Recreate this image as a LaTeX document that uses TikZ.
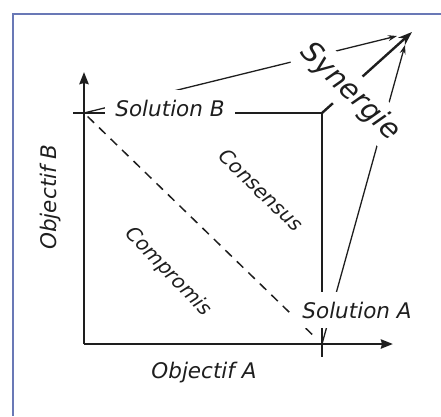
\documentclass[tikz,border=0pt]{standalone}
\usepackage{fontspec}
\setmainfont{DejaVu Sans}
\usepackage{tikz}
\usetikzlibrary{arrows.meta,calc}
\definecolor{framecol}{RGB}{105,120,182}
\definecolor{ink}{RGB}{30,30,30}

\begin{document}
\begin{tikzpicture}[x=1pt, y=-1pt, font=\itshape\fontsize{21.5}{25}\selectfont,
		axis/.style={line width=2.9pt, draw=ink, -{Stealth[length=12pt, width=9pt, inset=1pt]}},
		thinline/.style={line width=1.3pt, draw=ink},
		thinarrow/.style={thinline, -{Stealth[length=9pt, width=6pt]}},
		gaplabel/.style={fill=white, inner sep=10pt, text=ink},
		arealabel/.style={text=ink, font=\itshape\fontsize{20}{24}\selectfont}]
		\useasboundingbox (0,0) rectangle (441,416);
		% frame (only left and top edges are in view)
		\draw[framecol, line width=2pt] (13,416) -- (13,14) -- (441,14);
		% key points
		\coordinate (O) at (84,344);
		\coordinate (B) at (84,113);
		\coordinate (A) at (322,344);
		\coordinate (C) at (322,113);
		\coordinate (P) at (412,32);
		\coordinate (tipB) at (397,36);
		\coordinate (tipA) at (405,45);
		% axes
		\draw[axis] (O) -- (84,72);
		\draw[axis] (O) -- (393,344);
		\draw[line width=2pt, ink] (73,113) -- (B);
		\draw[line width=2pt, ink] (322,333) -- (322,357);
		% consensus square and compromise line
		\draw[thinline] (B) -- (C) -- (A);
		\draw[thinline, line width=1.5pt, dash pattern=on 9pt off 7pt,
			shorten <=5pt, shorten >=13pt] (B) -- (A);
		% towards synergy
		\draw[thinarrow] (B) -- (tipB);
		\draw[thinarrow] (A) -- (tipA);
		\draw[line width=2.4pt, ink, -{Stealth[length=14pt, width=10pt]}] (C) -- (P);
		% labels
		\node[gaplabel] (solB) at (170,108) {Solution B};
		\node[gaplabel] (solA) at (357,310) {Solution A};
		\node[gaplabel, inner xsep=1pt, inner ysep=6pt, rotate=-44,
			font=\itshape\fontsize{28.5}{33}\selectfont] (syn) at (350,92) {Synergie};
		\node[arealabel, rotate=-44] (cons) at (261,190) {Consensus};
		\node[arealabel, rotate=-46] (comp) at (168,272) {Compromis};
		\node[text=ink] (objA) at (204,373) {Objectif A};
		\node[text=ink, rotate=90] (objB) at (51,197) {Objectif B};
	\end{tikzpicture}
\end{document}
